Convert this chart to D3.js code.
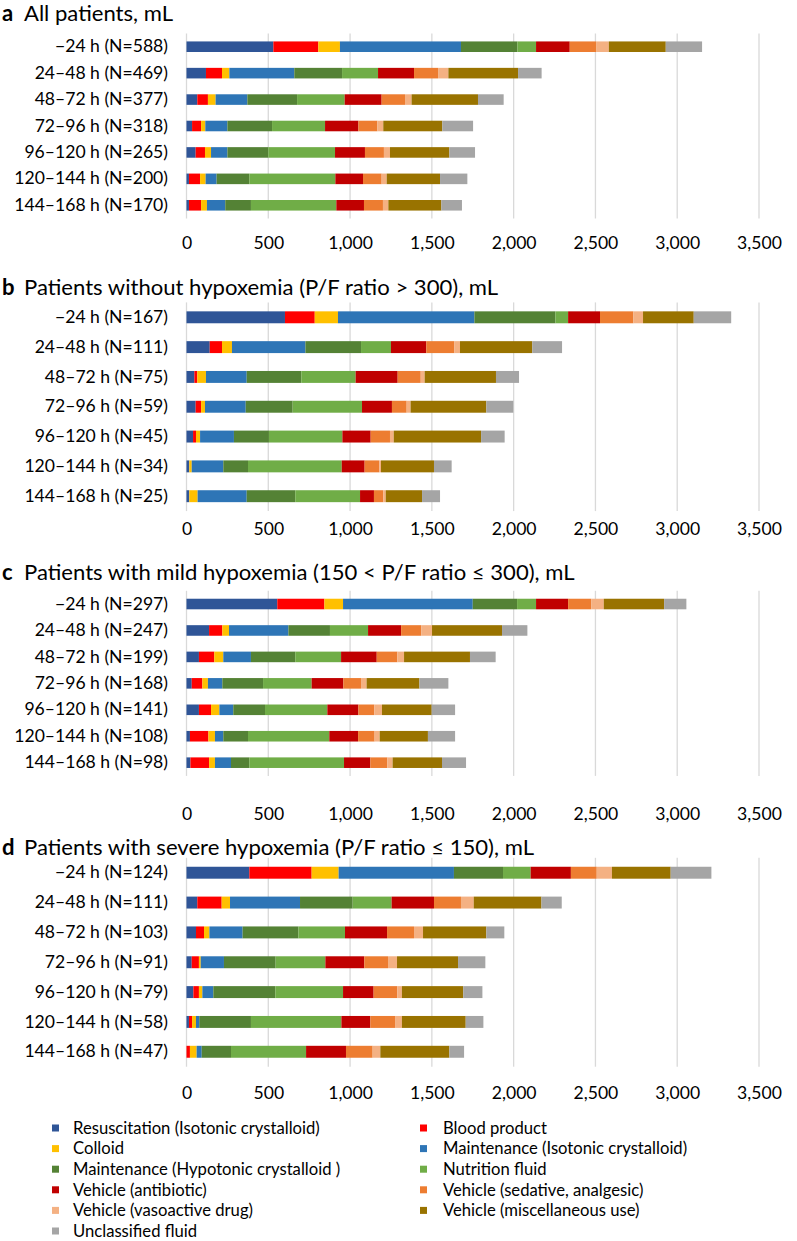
<!DOCTYPE html>
<html>
<head>
<meta charset="utf-8">
<script src="https://cdn.jsdelivr.net/npm/d3@7/dist/d3.min.js"></script>
<style>
  body { margin: 0; background: #ffffff; }
  svg text { font-family: Lato, "Open Sans", "Liberation Sans", sans-serif; fill: #000; }
</style>
</head>
<body>
<svg id="chart" width="797" height="1241"></svg>
<script>
// ---------- DATA ----------
const seriesNames = [
  "Resuscitation (Isotonic crystalloid)",
  "Blood product",
  "Colloid",
  "Maintenance (Isotonic crystalloid)",
  "Maintenance (Hypotonic crystalloid )",
  "Nutrition fluid",
  "Vehicle (antibiotic)",
  "Vehicle (sedative, analgesic)",
  "Vehicle (vasoactive drug)",
  "Vehicle (miscellaneous use)",
  "Unclassified fluid"
];
const seriesColors = ["#2F5597", "#FF0000", "#FFC000", "#2E75B6", "#548235", "#70AD47",
                      "#C00000", "#ED7D31", "#F4B183", "#997300", "#A5A5A5"];
const periods = ["−24 h", "24–48 h", "48–72 h", "72–96 h", "96–120 h", "120–144 h", "144–168 h"];
const tickValues = [0, 500, 1000, 1500, 2000, 2500, 3000, 3500];

const panelLetters = ["a", "b", "c", "d"];
const panelTitles = [
  "All patients, mL",
  "Patients without hypoxemia (P/F ratio > 300), mL",
  "Patients with mild hypoxemia (150 < P/F ratio ≤ 300), mL",
  "Patients with severe hypoxemia (P/F ratio ≤ 150), mL"
];

const nA = [588, 469, 377, 318, 265, 200, 170];
const nB = [167, 111, 75, 59, 45, 34, 25];
const nC = [297, 247, 199, 168, 141, 108, 98];
const nD = [124, 111, 103, 91, 79, 58, 47];

// mL per period, one row per period, columns follow seriesNames
const valuesA = [
  [531, 275, 132, 740, 345, 114, 206, 161, 78, 348, 222],
  [119, 98, 45, 397, 292, 220, 220, 147, 63, 426, 144],
  [66, 65, 47, 194, 304, 291, 226, 143, 40, 406, 157],
  [34, 55, 26, 135, 273, 324, 204, 116, 36, 361, 188],
  [56, 57, 37, 100, 250, 408, 183, 116, 37, 363, 157],
  [15, 68, 34, 67, 200, 526, 169, 114, 31, 326, 167],
  [15, 74, 36, 112, 157, 522, 169, 116, 33, 324, 126]
];
const valuesB = [
  [602, 182, 142, 834, 495, 78, 195, 204, 59, 310, 229],
  [142, 75, 61, 449, 340, 183, 216, 172, 34, 442, 182],
  [48, 18, 53, 249, 334, 332, 257, 141, 24, 436, 141],
  [56, 33, 24, 249, 287, 424, 183, 90, 24, 463, 165],
  [40, 18, 25, 207, 214, 449, 173, 118, 23, 534, 144],
  [17, 0, 15, 193, 151, 573, 140, 90, 10, 324, 108],
  [17, 0, 51, 300, 297, 396, 85, 57, 15, 222, 110]
];
const valuesC = [
  [555, 288, 114, 793, 271, 116, 196, 141, 77, 369, 136],
  [138, 81, 41, 363, 254, 233, 202, 124, 65, 428, 155],
  [76, 94, 55, 169, 271, 280, 218, 126, 41, 403, 157],
  [32, 65, 34, 88, 249, 297, 194, 108, 34, 323, 177],
  [76, 74, 51, 85, 194, 381, 190, 97, 47, 304, 143],
  [21, 113, 40, 51, 151, 497, 176, 101, 31, 295, 166],
  [24, 114, 36, 98, 112, 579, 161, 104, 32, 302, 147]
];
const valuesD = [
  [384, 381, 165, 705, 300, 169, 246, 158, 93, 359, 249],
  [66, 149, 51, 428, 322, 238, 259, 165, 78, 414, 124],
  [58, 49, 33, 203, 341, 285, 257, 165, 55, 387, 110],
  [32, 44, 11, 142, 316, 304, 238, 145, 55, 373, 167],
  [42, 34, 21, 67, 379, 414, 187, 145, 28, 375, 117],
  [15, 19, 24, 20, 316, 553, 177, 151, 42, 390, 108],
  [0, 21, 41, 31, 179, 459, 244, 163, 47, 422, 90]
];

// ---------- LAYOUT ----------
const layout = [
  { titleY: 21,  bandTop: 33.5,  bandBottom: 218.5,  tickY: 250 },
  { titleY: 295, bandTop: 302.4, bandBottom: 511.1,  tickY: 536 },
  { titleY: 580, bandTop: 590.8, bandBottom: 775.9,  tickY: 821 },
  { titleY: 855, bandTop: 857.8, bandBottom: 1066.7, tickY: 1100 }
];
const panelValues = [valuesA, valuesB, valuesC, valuesD];
const panelN = [nA, nB, nC, nD];

const svg = d3.select("#chart");

// font sizes chosen so reference text widths are reproduced
function fitSize(str, targetWidth) {
  const t = svg.append("text").style("font-size", "100px").text(str);
  const w = t.node().getComputedTextLength();
  t.remove();
  return 100 * targetWidth / w;
}
const labelSize = fitSize("−24 h (N=588)", 113);
const titleSize = (fitSize(panelTitles[0], 143) + fitSize(panelTitles[2], 573)) / 2;
const legendSize = fitSize("Resuscitation (Isotonic crystalloid)", 247);

const x = d3.scaleLinear().domain([0, 3500]).range([186.5, 759]);
const color = d3.scaleOrdinal().domain(seriesNames).range(seriesColors);
const stack = d3.stack().keys(d3.range(seriesNames.length)).value((d, k) => d[k]);

panelLetters.forEach((letter, p) => {
  const L = layout[p];
  const g = svg.append("g");
  const rows = panelValues[p];
  const labels = periods.map((per, i) => `${per} (N=${panelN[p][i]})`);

  const y = d3.scaleBand().domain(labels).range([L.bandTop, L.bandBottom])
    .paddingInner(0.6).paddingOuter(0.3);

  // title
  g.append("text").attr("x", 2).attr("y", L.titleY)
    .style("font-size", titleSize + "px").style("font-weight", "bold").text(letter);
  g.append("text").attr("x", 24).attr("y", L.titleY)
    .style("font-size", titleSize + "px").text(panelTitles[p]);

  // gridlines
  g.append("g").selectAll("line").data(tickValues).join("line")
    .attr("x1", d => x(d)).attr("x2", d => x(d))
    .attr("y1", L.bandTop).attr("y2", L.bandBottom)
    .attr("stroke", "#D9D9D9").attr("stroke-width", 1.3);

  // bars
  const rowData = rows.map((r, i) => Object.assign(r.slice(), { label: labels[i] }));
  const series = stack(rowData);
  g.append("g").selectAll("g").data(series).join("g")
    .attr("fill", (s, k) => seriesColors[k])
    .selectAll("rect").data(s => s).join("rect")
      .attr("x", d => x(d[0]))
      .attr("width", d => Math.max(0, x(d[1]) - x(d[0])))
      .attr("y", d => y(d.data.label))
      .attr("height", y.bandwidth());

  // category axis labels
  const yAxis = d3.axisLeft(y).tickSize(0).tickPadding(0);
  const ya = g.append("g").attr("transform", "translate(168,0)").call(yAxis);
  ya.select(".domain").remove();
  ya.selectAll("text").style("font-size", labelSize + "px")
    .style("font-family", "Lato, 'Open Sans', sans-serif").attr("fill", "#000");

  // value axis labels
  const xAxis = d3.axisBottom(x).tickValues(tickValues).tickSize(0).tickPadding(0)
    .tickFormat(d3.format(","));
  const xa = g.append("g").attr("transform", `translate(0,${L.tickY - 13})`).call(xAxis);
  xa.select(".domain").remove();
  xa.selectAll("text").style("font-size", labelSize + "px")
    .style("font-family", "Lato, 'Open Sans', sans-serif").attr("fill", "#000");
});

// ---------- LEGEND ----------
const legendX = [52, 420];
const legendTextX = [73, 443];
const legendY0 = 1128, legendStep = 20.6;
const lg = svg.append("g").selectAll("g").data(seriesNames).join("g")
  .attr("transform", (d, i) => `translate(0,${legendY0 + Math.floor(i / 2) * legendStep})`);
lg.append("rect")
  .attr("x", (d, i) => legendX[i % 2]).attr("y", -3.5)
  .attr("width", 7).attr("height", 7)
  .attr("fill", d => color(d));
lg.append("text")
  .attr("x", (d, i) => legendTextX[i % 2]).attr("y", 0).attr("dy", "0.35em")
  .style("font-size", legendSize + "px")
  .text(d => d);
</script>
</body>
</html>
